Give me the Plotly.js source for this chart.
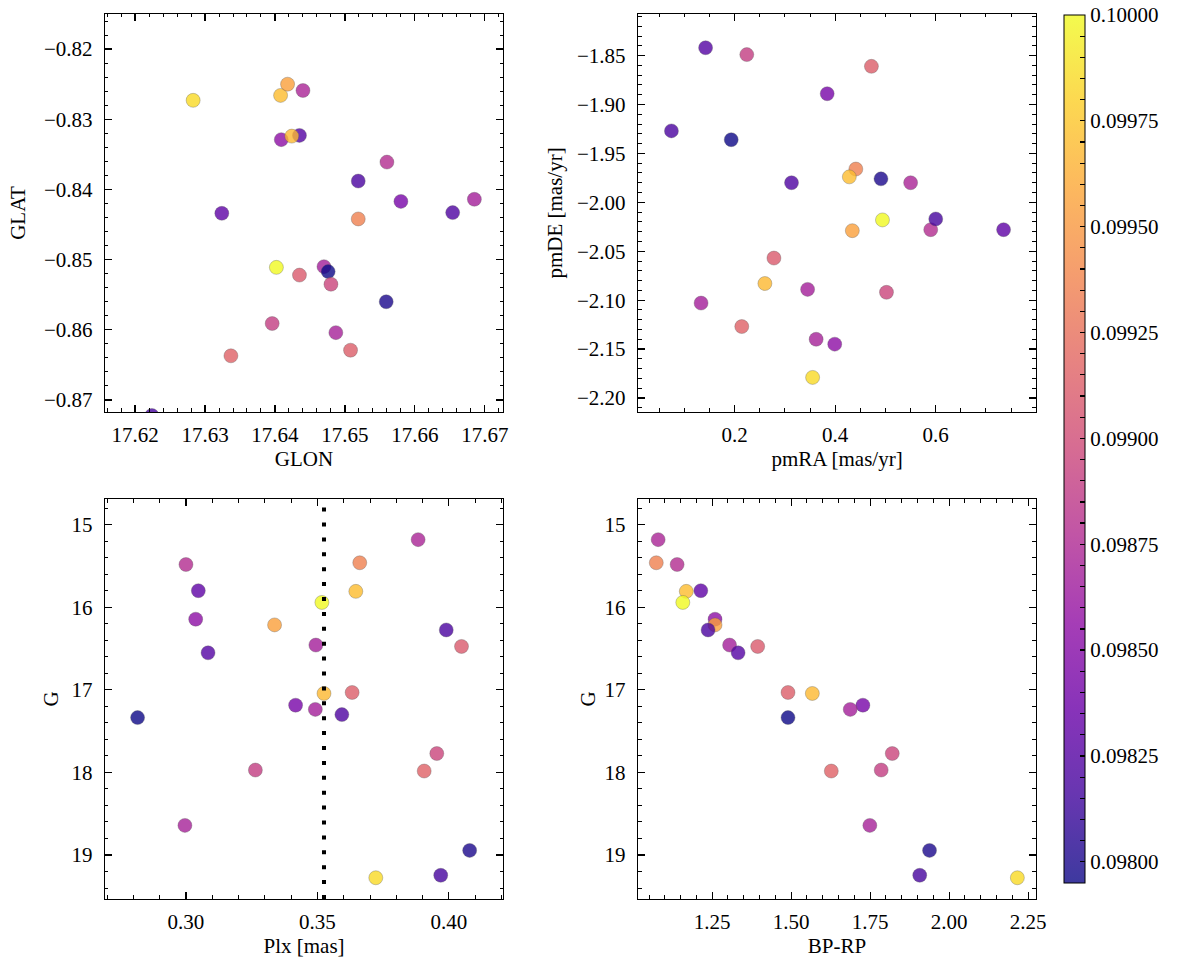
<!DOCTYPE html>
<html>
<head>
<meta charset="utf-8">
<script src="https://cdn.plot.ly/plotly-3.0.1.min.js"></script>
<style>html,body{margin:0;padding:0;background:#fff;}#plot{width:1177px;height:965px;}</style>
</head>
<body>
<div id="plot"></div>
<script>
// ---- data (one entry per star) ----
const G     = [15.183,15.463,15.484,15.801,15.809,15.943,16.146,16.215,16.276,16.459,16.476,16.553,17.033,17.045,17.187,17.238,17.301,17.337,17.772,17.972,17.984,18.642,18.945,19.246,19.276];
const BPRP  = [1.079,1.073,1.139,1.214,1.168,1.157,1.259,1.259,1.237,1.305,1.394,1.332,1.490,1.567,1.727,1.687,null,1.490,1.820,1.785,1.627,1.749,1.938,1.907,2.216];
const PLX   = [0.3883,0.3661,0.3000,0.3047,0.3646,0.3517,0.3037,0.3337,0.3990,0.3494,0.4048,0.3084,0.3632,0.3525,0.3417,0.3492,0.3593,0.2816,0.3954,0.3264,0.3906,0.2996,0.4079,0.3969,0.3722];
const PROB  = [0.09872,0.09935,0.09878,0.09830,0.09970,0.10000,0.09855,0.09955,0.09820,0.09868,0.09910,0.09825,0.09912,0.09968,0.09843,0.09868,0.09822,0.09795,0.09895,0.09890,0.09915,0.09870,0.09800,0.09818,0.09985];
const GLON  = [17.6440,17.6519,17.6560,17.6324,17.6408,17.6402,17.6409,17.6418,17.6519,17.6685,17.6435,17.6435,17.6508,17.6424,17.6580,17.6470,17.6654,17.6476,17.6480,17.6396,17.6337,17.6487,17.6559,17.6224,17.6283];
const GLAT  = [-0.8259,-0.8442,-0.8361,-0.8434,-0.8266,-0.8511,-0.8329,-0.8250,-0.8388,-0.8414,-0.8522,-0.8323,-0.8629,-0.8324,-0.8417,-0.8510,-0.8433,-0.8517,-0.8535,-0.8591,-0.8637,-0.8604,-0.8560,-0.8722,-0.8273];
const PMRA  = [0.550,0.441,0.590,0.735,0.428,0.494,0.399,0.434,0.074,0.345,0.278,0.142,0.472,0.260,0.384,0.133,0.313,0.193,0.502,0.224,0.214,0.362,0.491,0.600,0.355];
const PMDE  = [-1.980,-1.966,-2.028,-2.028,-1.974,-2.018,-2.145,-2.029,-1.927,-2.089,-2.057,-1.842,-1.861,-2.083,-1.889,-2.103,-1.980,-1.936,-2.092,-1.849,-2.127,-2.140,-1.976,-2.017,-2.179];
const PLX_REF = 0.3525;
const CB_MIN = 0.09795, CB_MAX = 0.10000;
const cbTickVals = [0.09800,0.09825,0.09850,0.09875,0.09900,0.09925,0.09950,0.09975,0.10000];
const cbTickText = ["0.09800","0.09825","0.09850","0.09875","0.09900","0.09925","0.09950","0.09975","0.10000"];

// ---- style ----
const FONT = "Liberation Serif, DejaVu Serif, serif";
const FS = 21;
const A = 0.8;
const plasma = [[0,'#0d0887'],[0.1,'#41049d'],[0.2,'#6a00a8'],[0.3,'#8f0da4'],[0.4,'#b12a90'],[0.5,'#cc4778'],[0.6,'#e16462'],[0.7,'#f2844b'],[0.8,'#fca636'],[0.9,'#fcce25'],[1,'#f0f921']];
function rgba(hex){const r=parseInt(hex.slice(1,3),16),g=parseInt(hex.slice(3,5),16),b=parseInt(hex.slice(5,7),16);return `rgba(${r},${g},${b},${A})`;}
const cscale = plasma.map(s=>[s[0], rgba(s[1])]);

const cbVals=[], cbText=[];
for(let i=0;i<=40;i++){
  const v = +(0.09800 + i*0.00005).toFixed(5);
  if (v > CB_MAX+1e-9) break;
  cbVals.push(v);
  const k = cbTickVals.findIndex(t=>Math.abs(t-v)<1e-9);
  cbText.push(k>=0 ? cbTickText[k] : '');
}

function trace(x,y,xa,ya){
  return {type:'scatter',mode:'markers',x:x,y:y,xaxis:xa,yaxis:ya,showlegend:false,hoverinfo:'skip',
    marker:{size:14,color:PROB,coloraxis:'coloraxis',line:{color:'rgba(90,90,90,0.55)',width:0.6}}};
}
const data=[trace(GLON,GLAT,'x','y'),trace(PMRA,PMDE,'x2','y2'),trace(PLX,G,'x3','y3'),trace(BPRP,G,'x4','y4')];

function mnr(d,t0){return {ticks:'inside',ticklen:3.5,tickwidth:1,tickcolor:'#000000',dtick:d,tick0:t0,showgrid:false};}
function ax(o){
  return Object.assign({showline:true,linecolor:'#000000',linewidth:1.3,mirror:'allticks',ticks:'inside',ticklen:7,tickwidth:1.2,tickcolor:'#000000',
    showgrid:false,zeroline:false,tickfont:{family:FONT,size:FS,color:'black'}},o);
}
function ttl(t,s){return {text:t,font:{family:FONT,size:FS,color:'black'},standoff:s};}
const XL=[0.0892,0.4274], XR=[0.5421,0.8802], YT=[0.5731,0.9855], YB=[0.0684,0.4829];

const layout={
  width:1177,height:965,margin:{l:0,r:0,t:0,b:0},paper_bgcolor:'white',plot_bgcolor:'white',
  font:{family:FONT,size:FS,color:'black'},
  xaxis: ax({domain:XL,anchor:'y',range:[17.6157,17.6726],tick0:17.62,dtick:0.01,tickformat:'.2f',minor:mnr(0.002,17.62),ticklabelstandoff:4,title:ttl('GLON',2)}),
  yaxis: ax({domain:YT,anchor:'x',range:[-0.8717,-0.8150],tick0:-0.82,dtick:0.01,tickformat:'.2f',minor:mnr(0.002,-0.82),ticklabelstandoff:7,title:ttl('GLAT',12)}),
  xaxis2: ax({domain:XR,anchor:'y2',range:[0.0076,0.7995],tick0:0,dtick:0.2,tickformat:'.1f',minor:mnr(0.05,0),ticklabelstandoff:4,title:ttl('pmRA [mas/yr]',2)}),
  yaxis2: ax({domain:YT,anchor:'x2',range:[-2.2143,-1.8075],tick0:-2,dtick:0.05,tickformat:'.2f',minor:mnr(0.01,-2),ticklabelstandoff:7,title:ttl('pmDE [mas/yr]',8)}),
  xaxis3: ax({domain:XL,anchor:'y3',range:[0.2692,0.4206],tick0:0.30,dtick:0.05,tickformat:'.2f',minor:mnr(0.01,0.30),ticklabelstandoff:4,title:ttl('Plx [mas]',2)}),
  yaxis3: ax({domain:YB,anchor:'x3',range:[19.533,14.691],tick0:15,dtick:1,minor:mnr(0.2,15),ticklabelstandoff:7,title:ttl('G',7)}),
  xaxis4: ax({domain:XR,anchor:'y4',range:[1.0153,2.275],tick0:1.25,dtick:0.25,tickformat:'.2f',minor:mnr(0.05,1.25),ticklabelstandoff:4,title:ttl('BP-RP',2)}),
  yaxis4: ax({domain:YB,anchor:'x4',range:[19.533,14.691],tick0:15,dtick:1,minor:mnr(0.2,15),ticklabelstandoff:7,title:ttl('G',3)}),
  coloraxis:{cmin:CB_MIN,cmax:CB_MAX,colorscale:cscale,
    colorbar:{x:0.904,xanchor:'left',xref:'paper',y:0.085,yanchor:'bottom',len:0.8995,lenmode:'fraction',thickness:21,thicknessmode:'pixels',
      xpad:0,ypad:0,outlinewidth:1,outlinecolor:'#000000',ticks:'inside',ticklen:5,tickwidth:1.2,tickcolor:'#000000',
      tickmode:'array',tickvals:cbVals,ticktext:cbText,tickfont:{family:FONT,size:FS,color:'black'}}},
  shapes:[{type:'line',xref:'x3',yref:'y3 domain',x0:PLX_REF,x1:PLX_REF,y0:0,y1:1,layer:'above',
    line:{color:'black',width:4,dash:'4px,10.9px'}}]
};
Plotly.newPlot('plot',data,layout,{staticPlot:true,displayModeBar:false});
</script>
</body>
</html>
